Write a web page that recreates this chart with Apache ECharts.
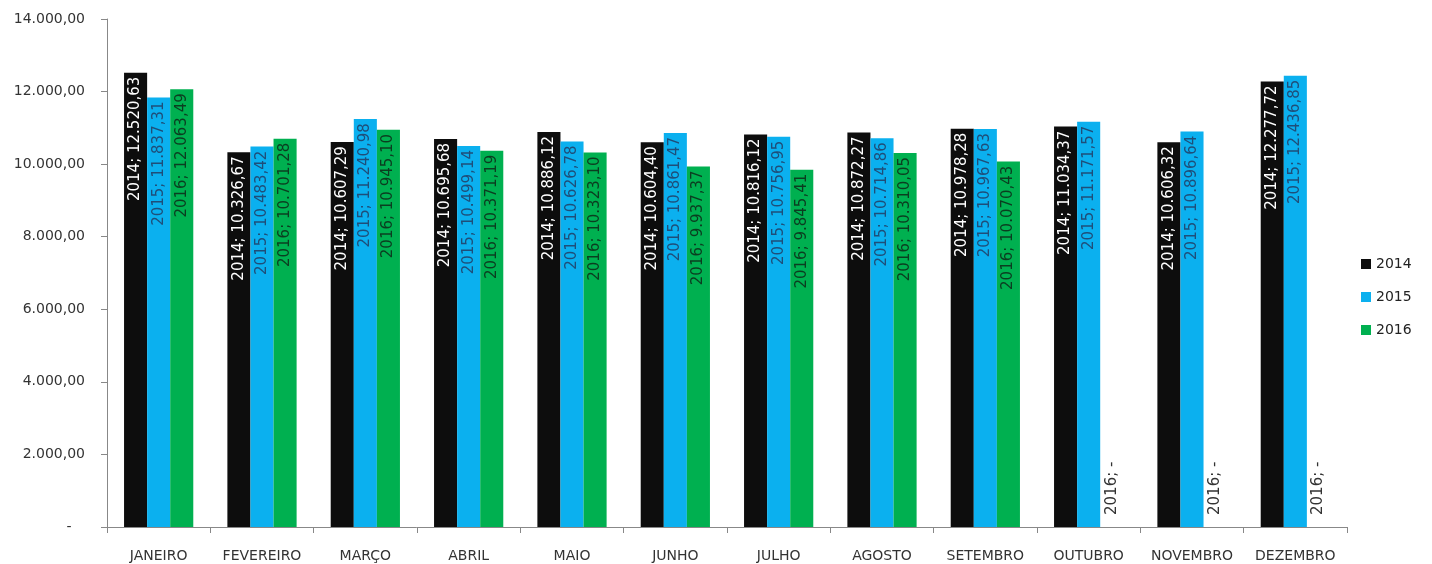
<!DOCTYPE html>
<html>
<head>
<meta charset="utf-8">
<script src="https://cdn.jsdelivr.net/npm/echarts@6/dist/echarts.min.js"></script>
<style>html,body{margin:0;padding:0;background:#fff}#c{width:1432px;height:564px}</style>
</head>
<body>
<div id="c"></div>
<script>
const categories = ['JANEIRO','FEVEREIRO','MARÇO','ABRIL','MAIO','JUNHO','JULHO','AGOSTO','SETEMBRO','OUTUBRO','NOVEMBRO','DEZEMBRO'];
const seriesNames = ['2014','2015','2016'];
const values2014 = [12520.63,10326.67,10607.29,10695.68,10886.12,10604.40,10816.12,10872.27,10978.28,11034.37,10606.32,12277.72];
const values2015 = [11837.31,10483.42,11240.98,10499.14,10626.78,10861.47,10756.95,10714.86,10967.63,11171.57,10896.64,12436.85];
const values2016 = [12063.49,10701.28,10945.10,10371.19,10323.10,9937.37,9845.41,10310.05,10070.43,0,0,0];
const yTicks = [0,2000,4000,6000,8000,10000,12000,14000];

function fmt(v){
  if (v === 0) return '-';
  const s = v.toFixed(2);
  let [i,d] = s.split('.');
  i = i.replace(/\B(?=(\d{3})+(?!\d))/g,'.');
  return i + ',' + d;
}

const colors = ['#0d0d0d','#0bb0ef','#00b050'];
const labelColors = ['#ffffff','#1f4e79','#0b3d20'];
const allValues = [values2014, values2015, values2016];
const FONT = 'DejaVu Sans';

const series = seriesNames.map((name, k) => ({
  name: name,
  type: 'bar',
  barGap: '0%',
  barCategoryGap: '33%',
  itemStyle: {color: colors[k]},
  data: allValues[k].map(v => v === 0 ? {
    value: v,
    label: {position: 'insideBottom', align: 'left', distance: 12, color: '#333'}
  } : v),
  label: {
    show: true,
    rotate: 90,
    position: 'insideTop',
    align: 'right',
    verticalAlign: 'middle',
    distance: 4,
    color: labelColors[k],
    fontFamily: FONT,
    fontSize: 15,
    formatter: p => p.seriesName + '; ' + fmt(p.value)
  }
}));

const chart = echarts.init(document.getElementById('c'));
chart.setOption({
  animation: false,
  backgroundColor: '#fff',
  textStyle: {fontFamily: FONT},
  grid: {left: 107, right: 85, top: 19, bottom: 37},
  legend: {
    orient: 'vertical',
    left: 1356,
    top: 252,
    itemWidth: 10,
    itemHeight: 10,
    itemGap: 19,
    icon: 'rect',
    textStyle: {fontFamily: FONT, fontSize: 14, color: '#222'},
    data: seriesNames
  },
  xAxis: {
    type: 'category',
    data: categories,
    axisLine: {lineStyle: {color: '#888'}},
    axisTick: {show: true, length: 6, lineStyle: {color: '#888'}},
    axisLabel: {fontFamily: FONT, fontSize: 14, color: '#333', margin: 22, interval: 0}
  },
  yAxis: {
    type: 'value',
    min: yTicks[0],
    max: yTicks[yTicks.length-1],
    interval: 2000,
    splitLine: {show: false},
    axisLine: {show: true, lineStyle: {color: '#888'}},
    axisTick: {show: true, length: 6, lineStyle: {color: '#888'}},
    axisLabel: {
      fontFamily: FONT, fontSize: 14, color: '#333', margin: 22,
      formatter: v => v === 0 ? '-   ' : fmt(v)
    }
  },
  series: series
});
</script>
</body>
</html>
